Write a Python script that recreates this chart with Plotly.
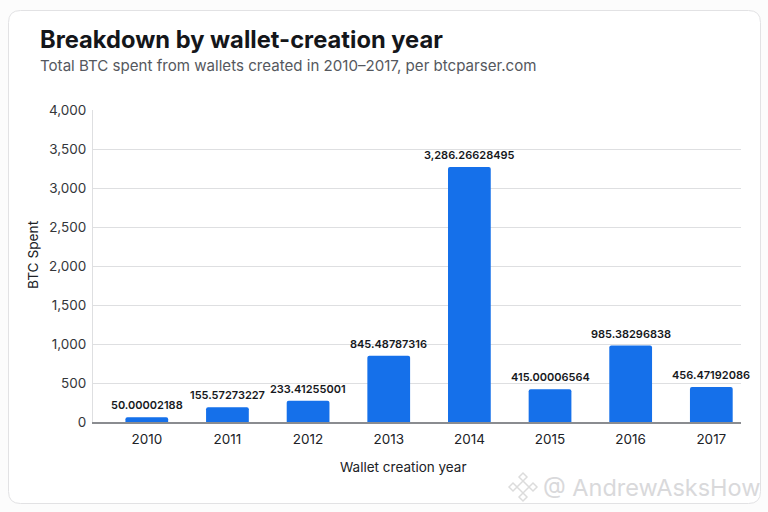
import plotly.graph_objects as go

# values (bars are drawn a bit off their printed labels)
years = ['2010', '2011', '2012', '2013', '2014', '2015', '2016', '2017']
btc_spent = [60, 190, 272, 850, 3270, 420, 980, 450]
bar_labels = ['50.00002188', '155.57273227', '233.41255001', '845.48787316',
              '3,286.26628495', '415.00006564', '985.38296838', '456.47192086']
y_ticks = [0, 500, 1000, 1500, 2000, 2500, 3000, 3500, 4000]

W, H = 768, 512
L, R, T, B = 93, 741, 110, 422
FONT = 'Inter'


def to_paper(x, y):
    # pixel position on the page -> paper coordinates of the plot area
    return (x - L) / (R - L), (B - y) / (B - T)


def rounded_card(x0, y0, x1, y1, r):
    a = to_paper(x0, y0)
    b = to_paper(x1, y1)
    rx = r / (R - L)
    ry = r / (B - T)
    return (f'M {a[0] + rx} {a[1]} L {b[0] - rx} {a[1]} Q {b[0]} {a[1]} {b[0]} {a[1] - ry} '
            f'L {b[0]} {b[1] + ry} Q {b[0]} {b[1]} {b[0] - rx} {b[1]} '
            f'L {a[0] + rx} {b[1]} Q {a[0]} {b[1]} {a[0]} {b[1] + ry} '
            f'L {a[0]} {a[1] - ry} Q {a[0]} {a[1]} {a[0] + rx} {a[1]} Z')


def diamond(cx, cy, r):
    pts = [to_paper(cx, cy - r), to_paper(cx + r, cy), to_paper(cx, cy + r), to_paper(cx - r, cy)]
    return 'M ' + ' L '.join(f'{p[0]} {p[1]}' for p in pts) + ' Z'


fig = go.Figure()
fig.add_trace(go.Bar(
    x=years,
    y=btc_spent,
    marker=dict(color='#1570ea', cornerradius=2, line=dict(width=0)),
    width=0.53,
    hoverinfo='skip',
))

shapes = [dict(type='path', xref='paper', yref='paper', layer='below',
               path=rounded_card(8.5, 10.5, 760.5, 503.5, 12),
               fillcolor='#ffffff', line=dict(color='#e2e2e4', width=1))]
# exchange logo in the watermark
for cx, cy, r in [(523, 487, 6), (513, 487, 4), (533, 487, 4), (523, 477, 4), (523, 497, 4)]:
    shapes.append(dict(type='path', xref='paper', yref='paper', path=diamond(cx, cy, r),
                       fillcolor='rgba(255,255,255,0)', line=dict(color='#dcdcdc', width=1.5)))


def label(x, y, text, size, color, weight=400, xanchor='left', angle=0):
    px_, py_ = to_paper(x, y)
    return dict(x=px_, y=py_, xref='paper', yref='paper', text=text, showarrow=False,
                xanchor=xanchor, yanchor='middle', textangle=angle,
                font=dict(family=FONT, size=size, color=color, weight=weight))


annotations = [
    label(38, 40, 'Breakdown by wallet-creation year', 23.7, '#14161a', 700),
    label(38, 65, 'Total BTC spent from wallets created in 2010–2017, per btcparser.com', 15.1, '#55585e'),
    label(541, 487, '@ AndrewAsksHow', 23.5, '#d9d9db'),
    label(403, 467, 'Wallet creation year', 13.5, '#202226', xanchor='center'),
    label(33, 255, 'BTC Spent', 13.7, '#202226', xanchor='center', angle=-90),
]
# value labels sit a fixed gap above each bar (category axis annotations take the index)
for i, (value, text) in enumerate(zip(btc_spent, bar_labels)):
    annotations.append(dict(x=i, y=value, xref='x', yref='y', text=text, showarrow=False,
                            yanchor='bottom', yshift=3,
                            font=dict(family=FONT, size=11, color='#16181c', weight=600)))

fig.update_layout(
    width=W,
    height=H,
    margin=dict(l=L, r=W - R, t=T, b=H - B, pad=0),
    paper_bgcolor='#fcfcfc',
    plot_bgcolor='rgba(0,0,0,0)',
    showlegend=False,
    shapes=shapes,
    annotations=annotations,
    font=dict(family=FONT, color='#2b2d31'),
)
fig.update_xaxes(
    type='category',
    range=[-0.667, 7.368],
    showgrid=False,
    showline=True,
    linecolor='#8a8c90',
    linewidth=1.5,
    ticks='',
    ticklabelstandoff=4,
    tickfont=dict(family=FONT, size=13.5, color='#202226'),
)
fig.update_yaxes(
    range=[0, 4000],
    tickvals=y_ticks,
    tickformat=',d',
    gridcolor='#dedfe1',
    gridwidth=1,
    showline=True,
    linecolor='#dedfe1',
    linewidth=1,
    zeroline=False,
    ticks='',
    ticklabelstandoff=3,
    tickfont=dict(family=FONT, size=13.5, color='#34363a'),
)

fig.write_html("out.html", config=dict(displayModeBar=False),
               post_script="document.body.style.margin='0';")
